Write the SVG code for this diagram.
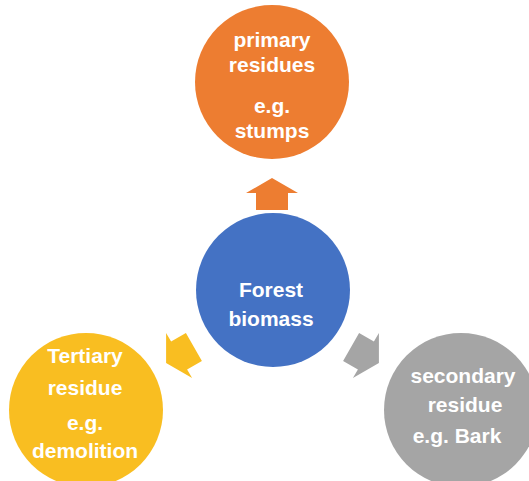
<svg xmlns="http://www.w3.org/2000/svg" width="529" height="481" viewBox="0 0 529 481">
<style>
text{font-family:"Liberation Sans",Arial,sans-serif;font-weight:bold;font-size:21px;fill:#ffffff;text-anchor:middle}
</style>
<rect width="529" height="481" fill="#ffffff"/>
<g id="connectors">
<polygon id="arrow-top" fill="#ED7D31" points="272,178 298,193 288,193 288,210 256,210 256,193 246,193"/>
<polygon id="arrow-left" fill="#F9BE21" transform="translate(180,355)" points="-13.9,8 -13.9,-22 -8.9,-13.4 5.9,-21.9 21.9,5.9 7.1,14.4 12.1,23"/>
<polygon id="arrow-right" fill="#A5A5A5" transform="translate(365,355) scale(-1,1)" points="-13.9,8 -13.9,-22 -8.9,-13.4 5.9,-21.9 21.9,5.9 7.1,14.4 12.1,23"/>
</g>
<g id="node-primary">
<circle cx="272" cy="82" r="77" fill="#ED7D31"/>
<text x="272" y="47">primary</text>
<text x="272" y="72">residues</text>
<text x="272" y="113">e.g.</text>
<text x="272" y="138">stumps</text>
</g>
<g id="node-forest">
<circle cx="273" cy="290" r="77" fill="#4472C4"/>
<text x="271" y="297">Forest</text>
<text x="271" y="326">biomass</text>
</g>
<g id="node-tertiary">
<circle cx="86" cy="410" r="77" fill="#F9BE21"/>
<text x="85" y="363">Tertiary</text>
<text x="85" y="395">residue</text>
<text x="85" y="430">e.g.</text>
<text x="85" y="458">demolition</text>
</g>
<g id="node-secondary">
<circle cx="461" cy="410" r="77" fill="#A5A5A5"/>
<text x="463" y="383">secondary</text>
<text x="465" y="412">residue</text>
<text x="457" y="443">e.g. Bark</text>
</g>
</svg>
